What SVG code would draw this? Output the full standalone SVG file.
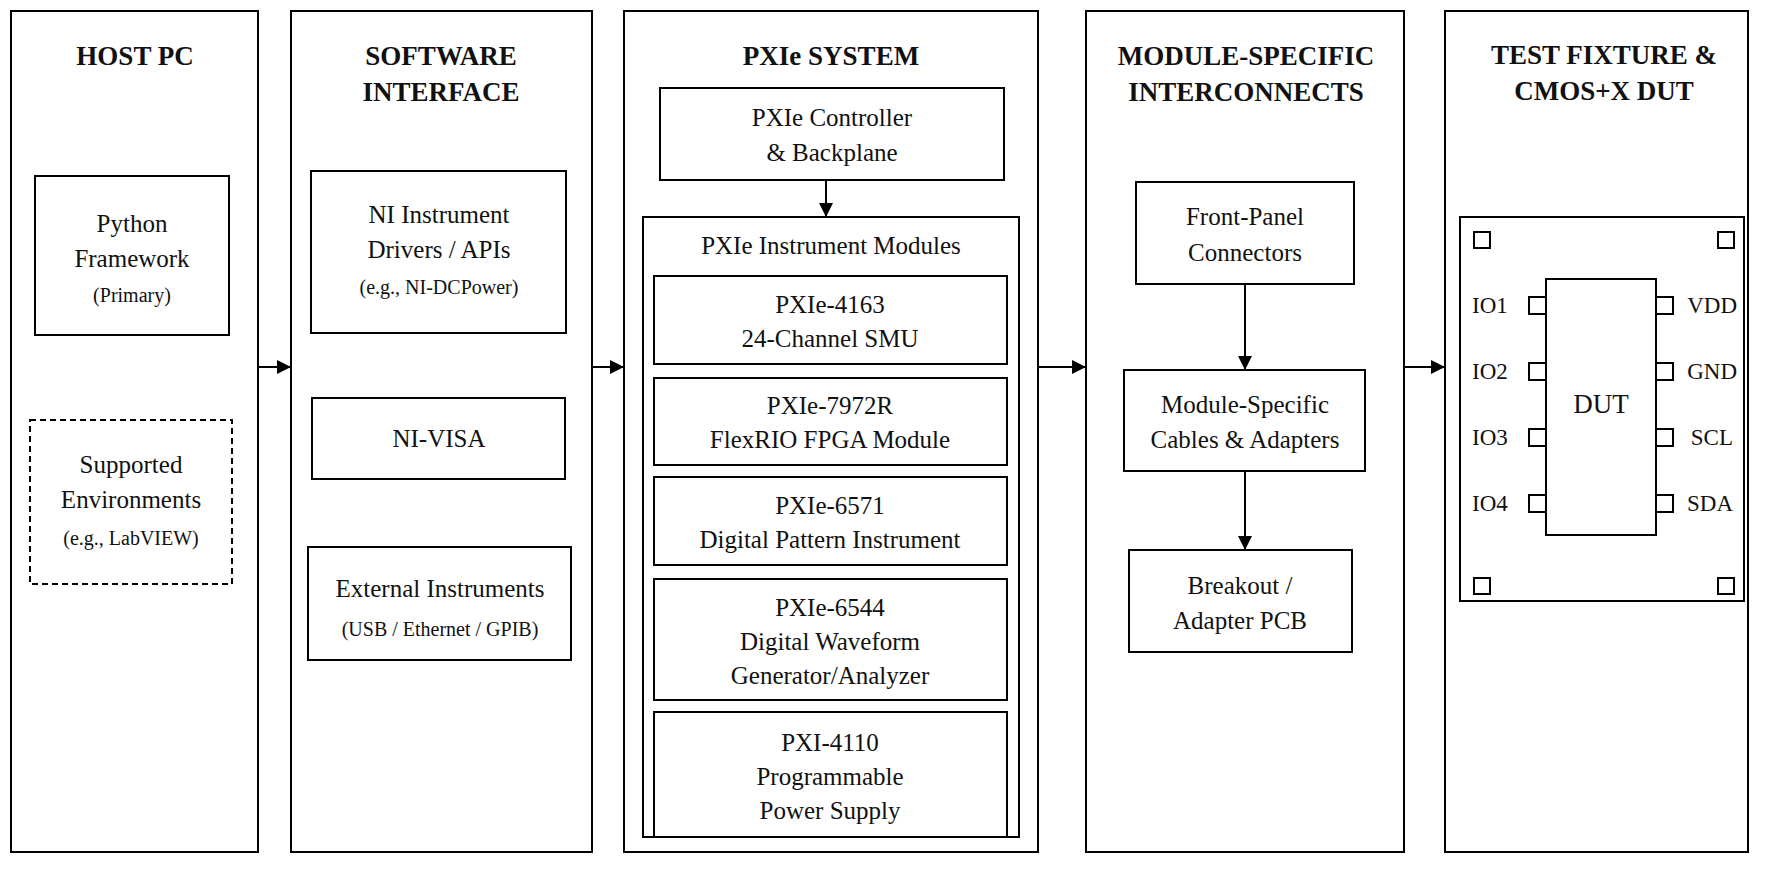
<svg xmlns="http://www.w3.org/2000/svg" width="1769" height="889" viewBox="0 0 1769 889">
<style>
rect{fill:#fff;stroke:#000;stroke-width:2}
text{font-family:"Liberation Serif",serif;fill:#111;text-anchor:middle}
.t{font-size:27px;font-weight:bold}
.b{font-size:25px}
.s{font-size:20px}
.p{font-size:23px}
.l{text-anchor:start}
.e{text-anchor:end}
line{stroke:#000;stroke-width:2;marker-end:url(#a)}
</style>
<defs><marker id="a" markerWidth="14" markerHeight="14" refX="13" refY="7" orient="auto" markerUnits="userSpaceOnUse"><path d="M0,0L14,7L0,14z"/></marker></defs>
<rect x="0" y="0" width="1769" height="889" style="stroke:none"/>
<g id="host"><rect x="11" y="11" width="247" height="841"/><text class="t" x="135" y="65">HOST PC</text>
<rect x="35" y="176" width="194" height="159"/><text class="b" x="132" y="232">Python</text><text class="b" x="132" y="267">Framework</text><text class="s" x="132" y="302">(Primary)</text>
<rect x="30" y="420" width="202" height="164" style="stroke-dasharray:6,4"/><text class="b" x="131" y="473">Supported</text><text class="b" x="131" y="508">Environments</text><text class="s" x="131" y="545">(e.g., LabVIEW)</text></g>
<g id="software"><rect x="291" y="11" width="301" height="841"/><text class="t" x="441" y="65">SOFTWARE</text><text class="t" x="441" y="101">INTERFACE</text>
<rect x="311" y="171" width="255" height="162"/><text class="b" x="439" y="223">NI Instrument</text><text class="b" x="439" y="258">Drivers / APIs</text><text class="s" x="439" y="294">(e.g., NI-DCPower)</text>
<rect x="312" y="398" width="253" height="81"/><text class="b" x="439" y="447">NI-VISA</text>
<rect x="308" y="547" width="263" height="113"/><text class="b" x="440" y="597">External Instruments</text><text class="s" x="440" y="636">(USB / Ethernet / GPIB)</text></g>
<g id="pxie"><rect x="624" y="11" width="414" height="841"/><text class="t" x="831" y="65">PXIe SYSTEM</text>
<rect x="660" y="88" width="344" height="92"/><text class="b" x="832" y="126">PXIe Controller</text><text class="b" x="832" y="161">&amp; Backplane</text>
<rect x="643" y="217" width="376" height="620"/><text class="b" x="831" y="254">PXIe Instrument Modules</text>
<rect x="654" y="276" width="353" height="88"/><text class="b" x="830" y="313">PXIe-4163</text><text class="b" x="830" y="347">24-Channel SMU</text>
<rect x="654" y="378" width="353" height="87"/><text class="b" x="830" y="414">PXIe-7972R</text><text class="b" x="830" y="448">FlexRIO FPGA Module</text>
<rect x="654" y="477" width="353" height="88"/><text class="b" x="830" y="514">PXIe-6571</text><text class="b" x="830" y="548">Digital Pattern Instrument</text>
<rect x="654" y="579" width="353" height="121"/><text class="b" x="830" y="616">PXIe-6544</text><text class="b" x="830" y="650">Digital Waveform</text><text class="b" x="830" y="684">Generator/Analyzer</text>
<rect x="654" y="712" width="353" height="125"/><text class="b" x="830" y="751">PXI-4110</text><text class="b" x="830" y="785">Programmable</text><text class="b" x="830" y="819">Power Supply</text></g>
<g id="interconnects"><rect x="1086" y="11" width="318" height="841"/><text class="t" x="1246" y="65">MODULE-SPECIFIC</text><text class="t" x="1246" y="101">INTERCONNECTS</text>
<rect x="1136" y="182" width="218" height="102"/><text class="b" x="1245" y="225">Front-Panel</text><text class="b" x="1245" y="261">Connectors</text>
<rect x="1124" y="370" width="241" height="101"/><text class="b" x="1245" y="413">Module-Specific</text><text class="b" x="1245" y="448">Cables &amp; Adapters</text>
<rect x="1129" y="550" width="223" height="102"/><text class="b" x="1240" y="594">Breakout /</text><text class="b" x="1240" y="629">Adapter PCB</text></g>
<g id="fixture"><rect x="1445" y="11" width="303" height="841"/><text class="t" x="1604" y="64">TEST FIXTURE &amp;</text><text class="t" x="1604" y="100">CMOS+X DUT</text>
<rect x="1460" y="217" width="284" height="384"/>
<rect x="1474" y="232" width="16" height="16"/><rect x="1718" y="232" width="16" height="16"/><rect x="1474" y="578" width="16" height="16"/><rect x="1718" y="578" width="16" height="16"/>
<rect x="1546" y="279" width="110" height="256"/><text class="p" x="1601" y="413" style="font-size:27px">DUT</text>
<rect x="1529" y="297" width="17" height="17"/><rect x="1529" y="363" width="17" height="17"/><rect x="1529" y="429" width="17" height="17"/><rect x="1529" y="495" width="17" height="17"/>
<rect x="1656" y="297" width="17" height="17"/><rect x="1656" y="363" width="17" height="17"/><rect x="1656" y="429" width="17" height="17"/><rect x="1656" y="495" width="17" height="17"/>
<text class="p l" x="1472" y="313">IO1</text><text class="p l" x="1472" y="379">IO2</text><text class="p l" x="1472" y="445">IO3</text><text class="p l" x="1472" y="511">IO4</text>
<text class="p e" x="1737" y="313">VDD</text><text class="p e" x="1737" y="379">GND</text><text class="p e" x="1733" y="445">SCL</text><text class="p e" x="1733" y="511">SDA</text></g>
<g id="connectors">
<line x1="258" y1="367" x2="290" y2="367"/><line x1="592" y1="367" x2="623" y2="367"/><line x1="1038" y1="367" x2="1085" y2="367"/><line x1="1404" y1="367" x2="1444" y2="367"/>
<line x1="826" y1="180" x2="826" y2="216"/><line x1="1245" y1="284" x2="1245" y2="369"/><line x1="1245" y1="471" x2="1245" y2="549"/>
</g>
</svg>
